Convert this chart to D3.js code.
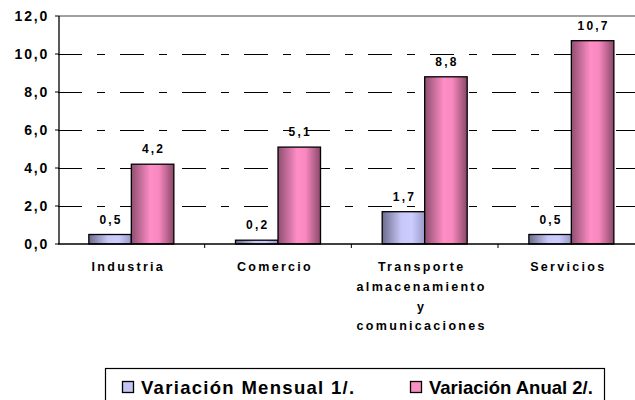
<!DOCTYPE html>
<html>
<head>
<meta charset="utf-8" />
<title>variacion por sector</title>
<script src="https://cdn.jsdelivr.net/npm/d3@7"></script>
<style>
  html, body { margin: 0; padding: 0; background: #fff; }
  svg { display: block; }
  text { font-family: Arial, "Liberation Sans", Helvetica, sans-serif; font-weight: 700; fill: #000; }
  .tick-y { font-size: 14px; text-anchor: end; letter-spacing: 1.8px; }
  .val { font-size: 12px; text-anchor: middle; letter-spacing: 2.2px; }
  .cat { font-size: 12.5px; text-anchor: middle; letter-spacing: 2.3px; }
  .leg { font-size: 18.5px; }
</style>
</head>
<body>
<svg width="635" height="400"></svg>
<script>

let categorias = [
  ["Industria"],
  ["Comercio"],
  ["Transporte", "almacenamiento", "y", "comunicaciones"],
  ["Servicios"]
];
let series = ["Variación Mensual 1/.", "Variación Anual 2/."];
let mensual = [0.5, 0.2, 1.7, 0.5];
let anual = [4.2, 5.1, 8.8, 10.7];
let yTicks = [0, 2, 4, 6, 8, 10, 12];

let rows = categorias.map((c, i) => ({ id: i, lines: c, vals: [mensual[i], anual[i]] }));

let locale = d3.formatLocale({ decimal: ",", thousands: ".", grouping: [3], currency: ["", ""] });
let fmt = locale.format(".1f");

let svg = d3.select('svg');

// gradients like the old excel fills
let defs = svg.append('defs');
let grads = [
  { id: 'gBlue', stops: [[0, '#6c6c8e'], [0.45, '#c8c8f8'], [0.7, '#ccccff'], [1, '#9a9ac8']] },
  { id: 'gPink', stops: [[0, '#8e4e70'], [0.45, '#ff8ec6'], [0.65, '#f888c0'], [1, '#8a4868']] }
];
grads.forEach(g => {
  let lg = defs.append('linearGradient').attr('id', g.id)
    .attr('x1', 0).attr('x2', 1).attr('y1', 0).attr('y2', 0);
  g.stops.forEach(s => lg.append('stop').attr('offset', s[0]).attr('stop-color', s[1]));
});
let fills = ['url(#gBlue)', 'url(#gPink)'];
let swatch = ['#c4c4f4', '#f890c4'];

let x = d3.scaleBand().domain(rows.map(d => d.id)).range([58, 644.7]).padding(0);
let x1 = d3.scaleBand().domain([0, 1]).range([0, 85]);
let y = d3.scaleLinear().domain([0, 12]).range([244, 16]);

// dashed grid lines (long - short pattern)
svg.append('g')
  .selectAll('path')
  .data(yTicks.filter(t => t > 0 && t < 12))
  .enter()
  .append('path')
  .attr('d', d => 'M58,' + (Math.round(y(d)) + 0.5) + 'H635')
  .attr('fill', 'none')
  .attr('stroke', '#000')
  .attr('stroke-width', 1)
  .style('stroke-dasharray', '24px, 15px, 8px, 15px');

svg.append('line')
  .attr('x1', 59).attr('x2', 635)
  .attr('y1', y(12)).attr('y2', y(12))
  .attr('stroke', '#808080').attr('stroke-width', 1.5);

// bars
let groups = svg.append('g')
  .selectAll('g')
  .data(rows)
  .enter()
  .append('g')
  .attr('transform', d => 'translate(' + (x(d.id) + x.bandwidth() / 2 - 42.5) + ',0)');

groups.selectAll('rect')
  .data(d => d.vals)
  .enter()
  .append('rect')
  .attr('x', (d, i) => x1(i))
  .attr('width', x1.bandwidth())
  .attr('y', d => y(d))
  .attr('height', d => y(0) - y(d))
  .attr('fill', (d, i) => fills[i])
  .attr('stroke', '#000')
  .attr('stroke-width', 1.3);

groups.selectAll('text')
  .data(d => d.vals)
  .enter()
  .append('text')
  .attr('class', 'val')
  .attr('x', (d, i) => x1(i) + x1.bandwidth() / 2 + 1)
  .attr('y', d => y(d) - 11)
  .text(d => fmt(d));

// axes
let yAxis = svg.append('g').attr('transform', 'translate(59,0)');
yAxis.append('line').attr('y1', y(12)).attr('y2', y(0))
  .attr('stroke', '#000').attr('stroke-width', 1.3);
yAxis.selectAll('line.t')
  .data(yTicks)
  .enter()
  .append('line')
  .attr('class', 't')
  .attr('x1', -4).attr('x2', 0)
  .attr('y1', d => y(d)).attr('y2', d => y(d))
  .attr('stroke', '#000');
yAxis.selectAll('text')
  .data(yTicks)
  .enter()
  .append('text')
  .attr('class', 'tick-y')
  .attr('x', -10)
  .attr('y', d => y(d) + 5)
  .text(d => fmt(d));

let xAxis = svg.append('g');
xAxis.append('line').attr('x1', 58).attr('x2', 635)
  .attr('y1', y(0)).attr('y2', y(0))
  .attr('stroke', '#000').attr('stroke-width', 1.3);
xAxis.selectAll('line.t')
  .data(rows.slice(1))
  .enter()
  .append('line')
  .attr('class', 't')
  .attr('x1', d => x(d.id)).attr('x2', d => x(d.id))
  .attr('y1', y(0)).attr('y2', y(0) + 4)
  .attr('stroke', '#000');

let catText = xAxis.selectAll('text')
  .data(rows)
  .enter()
  .append('text')
  .attr('class', 'cat')
  .attr('x', d => x(d.id) + x.bandwidth() / 2 - 3)
  .attr('y', 271);
catText.selectAll('tspan')
  .data(d => d.lines)
  .enter()
  .append('tspan')
  .attr('x', function () { return d3.select(this.parentNode).attr('x'); })
  .attr('dy', (d, i) => i === 0 ? 0 : 19.8)
  .text(d => d);

// legend
let leg = svg.append('g');
leg.append('rect')
  .attr('x', 105.5).attr('y', 368.5)
  .attr('width', 499).attr('height', 40)
  .attr('fill', '#fff').attr('stroke', '#000').attr('stroke-width', 1.2);

let legX = [122, 410];
let legSpacing = [1.3, 0];
let items = leg.selectAll('g')
  .data(series)
  .enter()
  .append('g')
  .attr('transform', (d, i) => 'translate(' + legX[i] + ',0)');
items.append('rect')
  .attr('x', 0.5).attr('y', 381.5)
  .attr('width', 11).attr('height', 11)
  .attr('fill', (d, i) => swatch[i])
  .attr('stroke', '#000').attr('stroke-width', 1.3);
items.append('text')
  .attr('class', 'leg')
  .attr('x', 19)
  .attr('y', 393.5)
  .style('letter-spacing', (d, i) => legSpacing[i] + 'px')
  .text(d => d);

</script>
</body>
</html>
